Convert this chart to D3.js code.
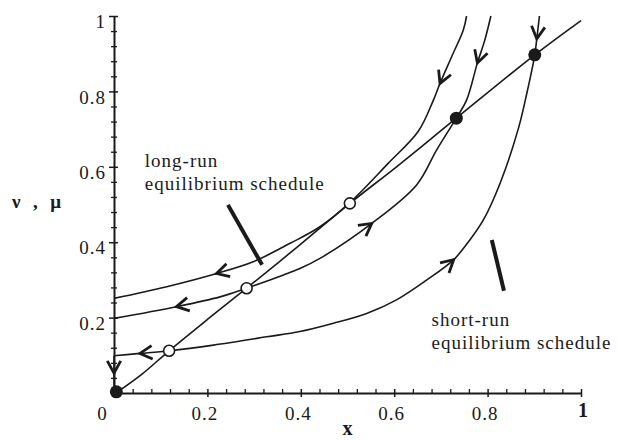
<!DOCTYPE html>
<html>
<head>
<meta charset="utf-8">
<script src="https://cdn.jsdelivr.net/npm/d3@7"></script>
<style>
  body { margin: 0; background: #fff; }
  text { font-family: "Liberation Serif", "Times New Roman", serif; fill: #1a1a1a; }
</style>
</head>
<body>
<div id="app"></div>
<script>
// tick values / labels
const xTicks = [0, 0.2, 0.4, 0.6, 0.8, 1]
const yTicks = [0.2, 0.4, 0.6, 0.8, 1]
const minorTicks = [0.04, 0.08, 0.12, 0.16, 0.24, 0.28, 0.32, 0.36, 0.44, 0.48, 0.52, 0.56,
                    0.64, 0.68, 0.72, 0.76, 0.84, 0.88, 0.92, 0.96]

// 45 degree line
const diagX = [0.01, 0.06, 0.118, 0.2, 0.284, 0.4, 0.505, 0.605, 0.733, 0.901, 1.0]
const diagY = [0.005, 0.05, 0.112, 0.195, 0.278, 0.395, 0.503, 0.6, 0.729, 0.897, 0.988]

// trajectory starting at 0.25
const aX = [0, 0.113, 0.22, 0.298, 0.377, 0.441, 0.505, 0.587, 0.652, 0.684, 0.698, 0.723, 0.748, 0.755]
const aY = [0.251, 0.282, 0.317, 0.348, 0.397, 0.441, 0.505, 0.609, 0.695, 0.777, 0.821, 0.892, 0.963, 1.0]

// trajectory starting at 0.2
const bX = [0, 0.134, 0.227, 0.284, 0.363, 0.398, 0.441, 0.552, 0.648, 0.691, 0.733, 0.755, 0.778, 0.794, 0.807]
const bY = [0.198, 0.229, 0.255, 0.278, 0.313, 0.33, 0.357, 0.45, 0.552, 0.645, 0.729, 0.777, 0.875, 0.936, 1.0]

// trajectory starting at 0.1
const cX = [0, 0.056, 0.118, 0.213, 0.327, 0.398, 0.47, 0.541, 0.605, 0.67, 0.727, 0.762, 0.791,
            0.827, 0.866, 0.884, 0.901, 0.905, 0.911]
const cY = [0.099, 0.105, 0.112, 0.127, 0.149, 0.163, 0.185, 0.211, 0.247, 0.30, 0.353, 0.406, 0.459,
            0.557, 0.702, 0.795, 0.897, 0.936, 1.0]

// drop along the axis to the origin
const dX = [0, 0]
const dY = [0.099, 0]

// arrowheads: series, where on it, which way (-1 toward start, +1 toward end)
const arrowSeries = ['a', 'a', 'b', 'b', 'b', 'c', 'c', 'c', 'd']
const arrowX = [0.22, 0.698, 0.134, 0.552, 0.778, 0.056, 0.727, 0.903, 0]
const arrowY = [0.317, 0.821, 0.229, 0.45, 0.875, 0.105, 0.353, 0.94, 0.053]
const arrowDir = [-1, -1, -1, 1, -1, -1, 1, -1, 1]

// equilibrium points
const openX = [0.118, 0.284, 0.505]
const openY = [0.112, 0.278, 0.503]
const fillX = [0.005, 0.733, 0.901]
const fillY = [0.003, 0.729, 0.897]

// annotations
const noteLines = [['long-run', 'equilibrium schedule'], ['short-run', 'equilibrium schedule']]
const noteX = [0.066, 0.68]
const noteY = [0.599, 0.178]
const pointerX1 = [0.244, 0.809], pointerY1 = [0.499, 0.406]
const pointerX2 = [0.317, 0.835], pointerY2 = [0.340, 0.271]

const W = 618, H = 441
const ink = '#1a1a1a'

const x = d3.scaleLinear().domain([0, 1]).range([114, 581])
const y = d3.scaleLinear().domain([0, 1]).range([393, 16])

const svg = d3.create('svg').attr('width', W).attr('height', H)

// axes
const xMinor = svg.append('g').attr('transform', `translate(0,${y(0)})`)
    .call(d3.axisBottom(x).tickValues(minorTicks).tickFormat('').tickSizeOuter(0))
xMinor.select('.domain').remove()
xMinor.selectAll('.tick line').attr('y1', -4).attr('y2', 1).attr('stroke', ink).attr('stroke-width', 1.3)

const yMinor = svg.append('g').attr('transform', `translate(${x(0)},0)`)
    .call(d3.axisLeft(y).tickValues(minorTicks).tickFormat('').tickSizeOuter(0))
yMinor.select('.domain').remove()
yMinor.selectAll('.tick line').attr('x1', -3).attr('x2', 3).attr('stroke', ink).attr('stroke-width', 1.3)

const xAxis = svg.append('g').attr('transform', `translate(0,${y(0)})`)
    .call(d3.axisBottom(x).tickValues(xTicks).tickSizeOuter(0)
        .tickFormat(d => d === 0 || d === 1 ? String(d) : d3.format('.1f')(d)))
xAxis.select('.domain').attr('stroke', ink).attr('stroke-width', 2)
xAxis.selectAll('.tick line').attr('y1', d => d === 0 ? 0 : -4).attr('y2', 4)
    .attr('stroke', ink).attr('stroke-width', 1.5)
xAxis.selectAll('.tick text')
    .attr('y', d => d === 1 ? 24 : 27).attr('dy', null)
    .attr('dx', d => d === 0 ? -12 : d === 1 ? 2 : -3)
    .style('font-size', d => d === 1 ? '20px' : '19px')
    .style('font-weight', d => d === 1 ? 'bold' : 'normal')
    .style('letter-spacing', '1px')
    .attr('fill', ink)

const yAxis = svg.append('g').attr('transform', `translate(${x(0)},0)`)
    .call(d3.axisLeft(y).tickValues(yTicks).tickSizeOuter(0).tickFormat(d => d === 1 ? '1' : d3.format('.1f')(d)))
yAxis.select('.domain').attr('stroke', ink).attr('stroke-width', 2)
yAxis.selectAll('.tick line').attr('x1', -5).attr('x2', 4).attr('stroke', ink).attr('stroke-width', 1.5)
yAxis.selectAll('.tick text')
    .attr('x', -8).attr('dy', '0.62em')
    .style('font-size', '19px').style('letter-spacing', '1px')
    .attr('fill', ink)

svg.append('text').attr('x', 12).attr('y', 208)
    .style('font-size', '19px').style('font-weight', 'bold').style('letter-spacing', '1px')
    .attr('xml:space', 'preserve')
    .text('ν  ,  μ')

svg.append('text').attr('x', x(0.5)).attr('y', 435).attr('text-anchor', 'middle')
    .style('font-size', '20px').style('font-weight', 'bold')
    .text('x')

// curves
const series = {
    diag: diagX.map((v, i) => [v, diagY[i]]),
    a: aX.map((v, i) => [v, aY[i]]),
    b: bX.map((v, i) => [v, bY[i]]),
    c: cX.map((v, i) => [v, cY[i]]),
    d: dX.map((v, i) => [v, dY[i]])
}

const line = d3.line().x(d => x(d[0])).y(d => y(d[1])).curve(d3.curveCatmullRom.alpha(0.5))

const paths = {}
Object.entries(series).forEach(([k, pts]) => {
    paths[k] = svg.append('path')
        .attr('d', line(pts))
        .attr('fill', 'none')
        .attr('stroke', ink)
        .attr('stroke-width', 1.6)
})

// pointer strokes
svg.selectAll('line.pointer').data(pointerX1).join('line')
    .attr('class', 'pointer')
    .attr('x1', (d, i) => x(d)).attr('y1', (d, i) => y(pointerY1[i]))
    .attr('x2', (d, i) => x(pointerX2[i])).attr('y2', (d, i) => y(pointerY2[i]))
    .attr('stroke', ink).attr('stroke-width', 4)

// notes
noteLines.forEach((lines, i) => {
    const t = svg.append('text').attr('x', x(noteX[i])).attr('y', y(noteY[i]))
        .style('font-size', '19px').style('letter-spacing', '1px')
    lines.forEach((s, j) => t.append('tspan').attr('x', x(noteX[i])).attr('dy', j ? 23 : 0).text(s))
})

// markers
svg.selectAll('circle.open').data(openX).join('circle')
    .attr('class', 'open')
    .attr('cx', d => x(d)).attr('cy', (d, i) => y(openY[i])).attr('r', 5.5)
    .attr('fill', '#fff').attr('stroke', ink).attr('stroke-width', 1.6)

svg.selectAll('circle.fill').data(fillX).join('circle')
    .attr('class', 'fill')
    .attr('cx', d => x(d)).attr('cy', (d, i) => y(fillY[i])).attr('r', 6.5)
    .attr('fill', ink)

const app = d3.select('#app')
app.append(() => svg.node())

// arrowheads, placed on the drawn paths
arrowSeries.forEach((k, i) => {
    const node = paths[k].node()
    const total = node.getTotalLength()
    const tx = x(arrowX[i]), ty = y(arrowY[i])
    let best = 0, bestD = Infinity
    for (let l = 0; l <= total; l += 0.5) {
        const p = node.getPointAtLength(l)
        const dd = (p.x - tx) ** 2 + (p.y - ty) ** 2
        if (dd < bestD) { bestD = dd; best = l }
    }
    const tip = node.getPointAtLength(best)
    const back = node.getPointAtLength(Math.max(0, Math.min(total, best - arrowDir[i] * 6)))
    const ang = Math.atan2(tip.y - back.y, tip.x - back.x)
    const len = 14, spread = 0.5
    const p1 = [tip.x - len * Math.cos(ang - spread), tip.y - len * Math.sin(ang - spread)]
    const p2 = [tip.x - len * Math.cos(ang + spread), tip.y - len * Math.sin(ang + spread)]
    svg.append('path')
        .attr('d', `M${p1}L${tip.x},${tip.y}L${p2}`)
        .attr('fill', 'none').attr('stroke', ink).attr('stroke-width', 2.8)
        .attr('stroke-linejoin', 'miter').attr('stroke-linecap', 'butt')
})
</script>
</body>
</html>
